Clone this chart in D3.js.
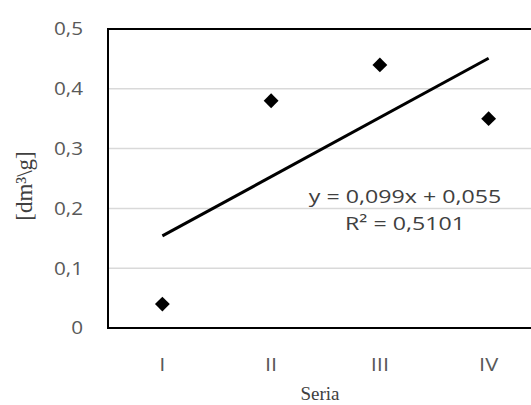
<!DOCTYPE html>
<html>
<head>
<meta charset="utf-8">
<script src="https://cdn.jsdelivr.net/npm/d3@7"></script>
<style>
  body { margin: 0; background: #fff; }
  svg { display: block; }
</style>
</head>
<body>
<div id="chart"></div>
<script>
// data
const categories = ["I", "II", "III", "IV"];
const values = [0.04, 0.38, 0.44, 0.35];
const yTicks = [0, 0.1, 0.2, 0.3, 0.4, 0.5];
// linear trend as given on the chart
const trendSlope = 0.099;
const trendIntercept = 0.055;
const trendText = ["y = 0,099x + 0,055", "R² = 0,5101"];

const W = 531, H = 405;
const margin = {top: 29, left: 108, bottom: 77};
const plotRight = 543; // plot area runs past the right edge of the picture

const svg = d3.select("#chart").append("svg")
    .attr("width", W)
    .attr("height", H);

const x = d3.scaleBand()
    .domain(categories)
    .range([margin.left, plotRight]);

const y = d3.scaleLinear()
    .domain([0, 0.5])
    .range([H - margin.bottom, margin.top]);

const fmt = d => d === 0 ? "0" : d3.format(".1f")(d).replace(".", ",");
const sansFont = "'Open Sans', sans-serif";
const stretch = 1.15; // reference text is a bit wider than Open Sans

// gridlines
svg.append("g")
    .selectAll("line")
    .data(yTicks.filter(d => d > 0 && d < 0.5))
    .enter()
    .append("line")
    .attr("x1", margin.left)
    .attr("x2", plotRight)
    .attr("y1", d => y(d))
    .attr("y2", d => y(d))
    .attr("stroke", "#d9d9d9")
    .attr("stroke-width", 1.5);

// y tick labels
svg.append("g")
    .selectAll("text")
    .data(yTicks)
    .enter()
    .append("text")
    .attr("transform", d => `translate(83,${y(d)}) scale(${stretch},1)`)
    .attr("dy", "0.35em")
    .attr("text-anchor", "end")
    .attr("font-family", sansFont)
    .attr("font-size", "18px")
    .attr("fill", "#595959")
    .text(fmt);

// x tick labels
svg.append("g")
    .selectAll("text")
    .data(categories)
    .enter()
    .append("text")
    .attr("transform", d => `translate(${x(d) + x.bandwidth() / 2},${y(0) + 36}) scale(${stretch},1)`)
    .attr("dy", "0.35em")
    .attr("text-anchor", "middle")
    .attr("font-family", sansFont)
    .attr("font-size", "19px")
    .attr("fill", "#595959")
    .text(d => d);

// plot frame (left, top, bottom)
const frame = d3.path();
frame.moveTo(plotRight, y(0.5));
frame.lineTo(margin.left, y(0.5));
frame.lineTo(margin.left, y(0));
frame.lineTo(plotRight, y(0));
svg.append("path")
    .attr("d", frame.toString())
    .attr("fill", "none")
    .attr("stroke", "#000")
    .attr("stroke-width", 2);

// trend line
const trend = categories.map((c, i) => ({c: c, v: trendSlope * (i + 1) + trendIntercept}));
const trendPts = [trend[0], trend[trend.length - 1]];
svg.append("path")
    .attr("d", d3.line()
        .x(d => x(d.c) + x.bandwidth() / 2)
        .y(d => y(d.v))(trendPts))
    .attr("fill", "none")
    .attr("stroke", "#000")
    .attr("stroke-width", 3);

// diamond markers
svg.append("g")
    .selectAll("path")
    .data(values)
    .enter()
    .append("path")
    .attr("d", d3.symbol().type(d3.symbolSquare).size(110))
    .attr("transform", (d, i) => `translate(${x(categories[i]) + x.bandwidth() / 2},${y(d)}) rotate(45)`)
    .attr("fill", "#000");

// trend equation
svg.append("g")
    .selectAll("text")
    .data(trendText)
    .enter()
    .append("text")
    .attr("transform", (d, i) => `translate(405,${203 + i * 27}) scale(1.22,1)`)
    .attr("text-anchor", "middle")
    .attr("font-family", sansFont)
    .attr("font-size", "19px")
    .attr("fill", "#404040")
    .text(d => d);

// axis titles
svg.append("text")
    .attr("x", 320)
    .attr("y", 400)
    .attr("text-anchor", "middle")
    .attr("font-family", "'Liberation Serif', serif")
    .attr("font-size", "19px")
    .attr("fill", "#404040")
    .text("Seria");

svg.append("text")
    .attr("transform", "translate(32,186) rotate(-90)")
    .attr("text-anchor", "middle")
    .attr("font-family", "'Liberation Serif', serif")
    .attr("font-size", "23px")
    .attr("fill", "#404040")
    .text("[dm³\\g]");
</script>
</body>
</html>
